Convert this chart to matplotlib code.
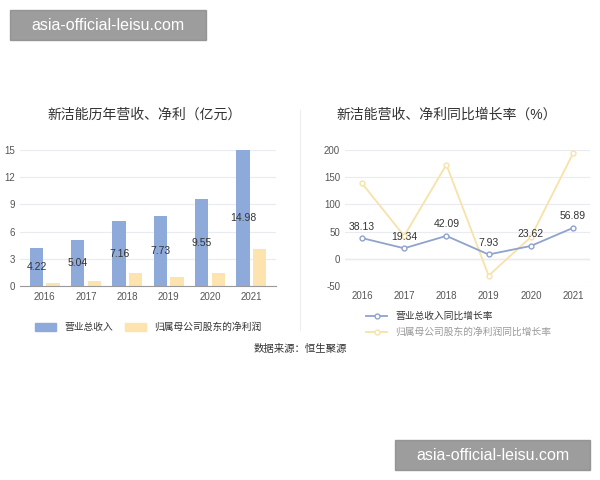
import matplotlib.pyplot as plt
import numpy as np

plt.rcParams['font.family'] = ['Liberation Sans', 'Noto Sans CJK SC', 'DejaVu Sans']
plt.rcParams['axes.unicode_minus'] = False

years = ['2016', '2017', '2018', '2019', '2020', '2021']
revenue = [4.22, 5.04, 7.16, 7.73, 9.55, 14.98]
profit = [0.35, 0.5, 1.4, 1.0, 1.4, 4.1]
rev_growth = [38.13, 19.34, 42.09, 7.93, 23.62, 56.89]
profit_growth = [139, 42, 173, -31, 40, 194]

blue = '#8eaadb'
yellow = '#fde4ae'
lblue = '#8fa3cc'
lyellow = '#f7e2a8'
grid = '#e8ecf2'
tick = '#555555'

fig = plt.figure(figsize=(6, 4.8), dpi=100)
W, H = 600, 480
def box(x0, y0, x1, y1):
    return [x0 / W, 1 - y1 / H, (x1 - x0) / W, (y1 - y0) / H]

# left: bars
ax = fig.add_axes(box(20, 150, 276, 286))
x = np.arange(len(years))
w = 0.32
ax.bar(x - 0.2, revenue, w, color=blue, zorder=2)
ax.bar(x + 0.2, profit, w, color=yellow, zorder=2)
for i, v in enumerate(revenue):
    ax.text(x[i] - 0.2, v / 2, f'{v:.2f}', ha='center', va='center',
            fontsize=7.5, color='#333333', zorder=3)
ax.set_ylim(0, 15)
ax.set_yticks([0, 3, 6, 9, 12, 15])
ax.set_xlim(-0.6, 5.6)
ax.set_xticks(x)
ax.set_xticklabels(years)
ax.yaxis.grid(True, color=grid, lw=0.8, zorder=0)
for s in ['top', 'right', 'left']:
    ax.spines[s].set_visible(False)
ax.spines['bottom'].set_color('#999999')
ax.tick_params(length=0, labelsize=7, colors=tick)
ax.tick_params(axis='x', pad=4)
fig.text(145 / W, 1 - 115 / H, '新洁能历年营收、净利（亿元）', ha='center', va='center', fontsize=10, color='#333333')
ax.legend([plt.Rectangle((0, 0), 1, 1, color=blue), plt.Rectangle((0, 0), 1, 1, color=yellow)],
          ['营业总收入', '归属母公司股东的净利润'], loc='upper center', bbox_to_anchor=(0.5, -0.2),
          ncol=2, frameon=False, fontsize=7, handlelength=2.2, handleheight=0.9, columnspacing=1.2,
          labelcolor='#333333')

# right: lines
ax2 = fig.add_axes(box(345, 150, 590, 286))
ax2.plot(x, rev_growth, color=lblue, marker='o', ms=3.5, mfc='white', lw=1.3, zorder=3,
         label='营业总收入同比增长率')
ax2.plot(x, profit_growth, color=lyellow, marker='o', ms=3.5, mfc='white', lw=1.3, zorder=2,
         label='归属母公司股东的净利润同比增长率')
for i, v in enumerate(rev_growth):
    ax2.text(x[i], v + 12, f'{v:.2f}', ha='center', va='bottom', fontsize=7.5, color='#333333', zorder=4)
ax2.set_ylim(-50, 200)
ax2.set_yticks([-50, 0, 50, 100, 150, 200])
ax2.set_xlim(-0.4, 5.4)
ax2.set_xticks(x)
ax2.set_xticklabels(years)
ax2.yaxis.grid(True, color=grid, lw=0.8, zorder=0)
ax2.axhline(0, color='#999999', lw=0.8, zorder=1)
for s in ['top', 'right', 'left', 'bottom']:
    ax2.spines[s].set_visible(False)
ax2.tick_params(length=0, labelsize=7, colors=tick)
fig.text(447 / W, 1 - 115 / H, '新洁能营收、净利同比增长率（%）', ha='center', va='center', fontsize=10, color='#333333')
leg = ax2.legend(loc='upper left', bbox_to_anchor=(0.05, -0.12), ncol=1, frameon=False, fontsize=7,
                 handlelength=2.2, labelspacing=0.6)
leg.get_texts()[0].set_color('#333333')
leg.get_texts()[1].set_color('#999999')

fig.add_artist(plt.Line2D([300 / W, 300 / W], [1 - 110 / H, 1 - 330 / H], color='#eeeeee', lw=0.8))
fig.text(300 / W, 1 - 349 / H, '数据来源：恒生聚源', ha='center', va='center', fontsize=7.5, color='#333333')

# watermarks
for (x0, y0, x1, y1) in [(10, 10, 206, 40), (395, 440, 590, 470)]:
    fig.patches.append(plt.Rectangle((x0 / W, 1 - y1 / H), (x1 - x0) / W, (y1 - y0) / H,
                                     transform=fig.transFigure, color='#8c8c8c', alpha=0.85, zorder=10))
    fig.text((x0 + x1) / 2 / W, 1 - (y0 + y1) / 2 / H, 'asia-official-leisu.com', ha='center', va='center',
             fontsize=11.5, color='white', zorder=11)

fig.savefig('out.png', dpi=100)
